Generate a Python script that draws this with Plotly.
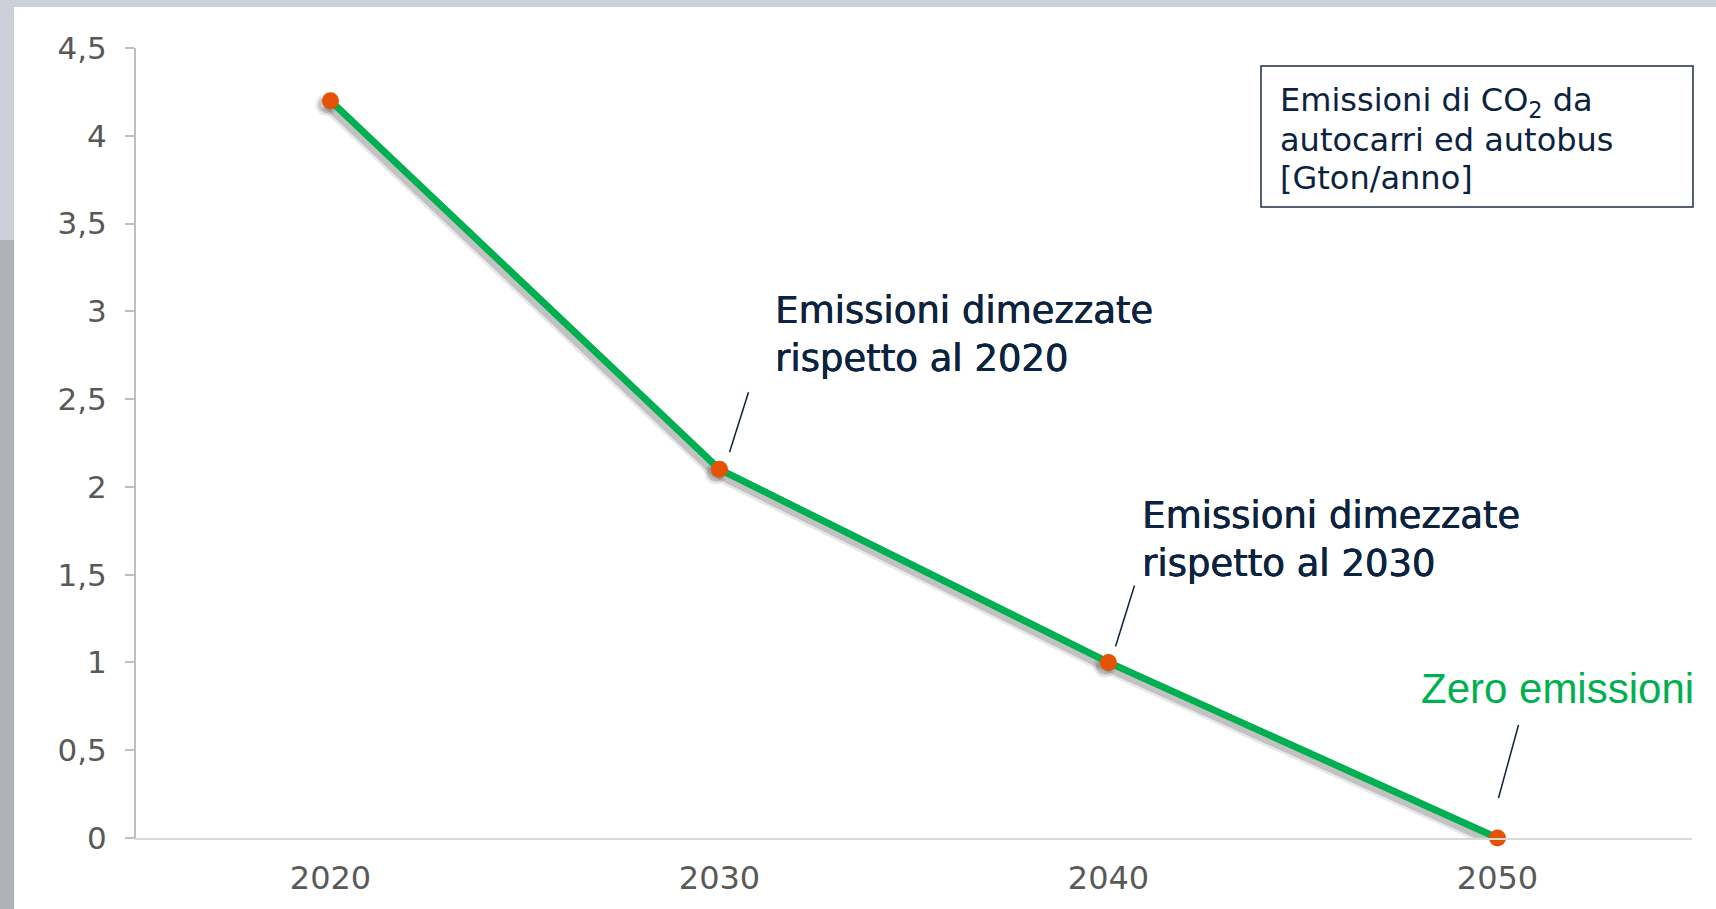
import plotly.graph_objects as go

# ---------------- data ----------------
years = [2020, 2030, 2040, 2050]
emissions = [4.2, 2.1, 1.0, 0.0]

x_tick_vals = [2020, 2030, 2040, 2050]
x_tick_text = ["2020", "2030", "2040", "2050"]
y_tick_vals = [0, 0.5, 1, 1.5, 2, 2.5, 3, 3.5, 4, 4.5]
y_tick_text = ["0", "0,5", "1", "1,5", "2", "2,5", "3", "3,5", "4", "4,5"]

box_lines = ["Emissioni di CO<sub>2</sub> da", "autocarri ed autobus", "[Gton/anno]"]
note_2030 = "Emissioni dimezzate<br>rispetto al 2020"
note_2040 = "Emissioni dimezzate<br>rispetto al 2030"
note_2050 = "Zero emissioni"

# ---------------- style ----------------
GREEN = "#00b050"
ORANGE = "#e35205"
NAVY = "#0c2340"
TICK_GREY = "#595959"
X_RANGE = [2015, 2055]
Y_RANGE = [0, 4.5]

W, H = 1716, 909
ML, MR, MT, MB = 136, 24, 48, 71
plot_w = W - ML - MR
plot_h = H - MT - MB

# shadow offset (pixels) converted to axis-range shifts
sdx, sdy = 4, 4
x_shift = sdx * (X_RANGE[1] - X_RANGE[0]) / plot_w
y_shift = sdy * (Y_RANGE[1] - Y_RANGE[0]) / plot_h

fig = go.Figure()

# soft drop shadow (drawn on hidden, slightly shifted axes)
fig.add_trace(go.Scatter(
    x=years, y=emissions, mode="lines+markers", xaxis="x", yaxis="y",
    line=dict(color="rgba(0,0,0,0.09)", width=13),
    marker=dict(size=22, color="rgba(0,0,0,0.09)"),
    hoverinfo="skip", cliponaxis=False, showlegend=False))
fig.add_trace(go.Scatter(
    x=years, y=emissions, mode="lines+markers", xaxis="x", yaxis="y",
    line=dict(color="rgba(0,0,0,0.16)", width=8),
    marker=dict(size=17, color="rgba(0,0,0,0.14)"),
    hoverinfo="skip", cliponaxis=False, showlegend=False))

# main series
fig.add_trace(go.Scatter(
    x=years, y=emissions, mode="lines+markers", xaxis="x2", yaxis="y2",
    line=dict(color=GREEN, width=7),
    marker=dict(size=17, color=ORANGE),
    cliponaxis=False, showlegend=False))

fig.update_layout(
    width=W, height=H, autosize=False,
    margin=dict(l=ML, r=MR, t=MT, b=MB, pad=0, autoexpand=False),
    paper_bgcolor="#cdd0db",
    plot_bgcolor="rgba(0,0,0,0)",
    showlegend=False,
    xaxis=dict(range=[X_RANGE[0] + x_shift, X_RANGE[1] + x_shift], visible=False,
               fixedrange=True, automargin=False),
    yaxis=dict(range=[Y_RANGE[0] + y_shift, Y_RANGE[1] + y_shift], visible=False,
               fixedrange=True, automargin=False),
    xaxis2=dict(
        overlaying="x", range=X_RANGE, tickvals=x_tick_vals, ticktext=x_tick_text,
        showline=True, linecolor="#d9d9d9", linewidth=2, ticks="",
        showgrid=False, zeroline=False, automargin=False,
        tickfont=dict(family="DejaVu Sans", size=32, color=TICK_GREY),
        ticklabelstandoff=11, anchor="y2"),
    yaxis2=dict(
        overlaying="y", range=Y_RANGE, tickvals=y_tick_vals, ticktext=y_tick_text,
        showline=True, linecolor="#bfbfbf", linewidth=2,
        ticks="outside", ticklen=9, tickwidth=2, tickcolor="#bfbfbf",
        showgrid=False, zeroline=False, automargin=False,
        tickfont=dict(family="DejaVu Sans", size=31, color=TICK_GREY),
        ticklabelstandoff=12, anchor="x2", side="left"),
)

def px_x(px):
    return (px - ML) / plot_w

def px_y(py):
    return (H - MB - py) / plot_h

# background: white panel over the photo strip
fig.add_shape(type="rect", xref="paper", yref="paper", layer="below",
              x0=px_x(-2), x1=px_x(14), y0=px_y(912), y1=px_y(240),
              line=dict(width=0), fillcolor="#aeb1b8")
fig.add_shape(type="rect", xref="paper", yref="paper", layer="below",
              x0=px_x(14), x1=px_x(1730), y0=px_y(925), y1=px_y(7),
              line=dict(width=0), fillcolor="white")

# title box
fig.add_shape(type="rect", xref="paper", yref="paper",
              x0=px_x(1261), x1=px_x(1693), y0=px_y(207), y1=px_y(66),
              line=dict(color="#1f2a4d", width=1.5), fillcolor="white")
for i, line_txt in enumerate(box_lines):
    fig.add_annotation(xref="paper", yref="paper", x=px_x(1278), y=px_y(102 + 38 * i),
                       xanchor="left", yanchor="middle", align="left", showarrow=False,
                       text=line_txt,
                       font=dict(family="DejaVu Sans", size=32, color=NAVY))

# callout texts anchored to data points (slightly heavier, like a medium weight)
callout_font = dict(family="DejaVu Sans", size=37, color=NAVY,
                    shadow="0.6px 0px 0px #0c2340, 0px 0.3px 0px #0c2340")
fig.add_annotation(xref="x2", yref="y2", x=years[1], y=emissions[1],
                   xanchor="left", yanchor="middle", align="left", showarrow=False,
                   xshift=53, yshift=135, text=note_2030, font=callout_font)
fig.add_annotation(xref="x2", yref="y2", x=years[2], y=emissions[2],
                   xanchor="left", yanchor="middle", align="left", showarrow=False,
                   xshift=31, yshift=123, text=note_2040, font=callout_font)
fig.add_annotation(xref="x2", yref="y2", x=years[3], y=emissions[3],
                   xanchor="left", yanchor="middle", align="left", showarrow=False,
                   xshift=-79, yshift=150, text=note_2050,
                   font=dict(family="Liberation Sans", size=42, color=GREEN))

# leader lines (pixel-sized shapes anchored to the data points)
for (xv, yv, x0, y0, x1, y1) in [(years[1], emissions[1], 10, 17, 29, 77),
                                 (years[2], emissions[2], 7, 16, 26, 77),
                                 (years[3], emissions[3], 1, 40, 21, 113)]:
    fig.add_shape(type="line", xref="x2", yref="y2",
                  xsizemode="pixel", ysizemode="pixel", xanchor=xv, yanchor=yv,
                  x0=x0, y0=y0, x1=x1, y1=y1,
                  line=dict(color=NAVY, width=1.5))

fig.write_html("out.html",
               config={"displayModeBar": False},
               post_script="document.body.style.margin='0';document.body.style.overflow='hidden';")
